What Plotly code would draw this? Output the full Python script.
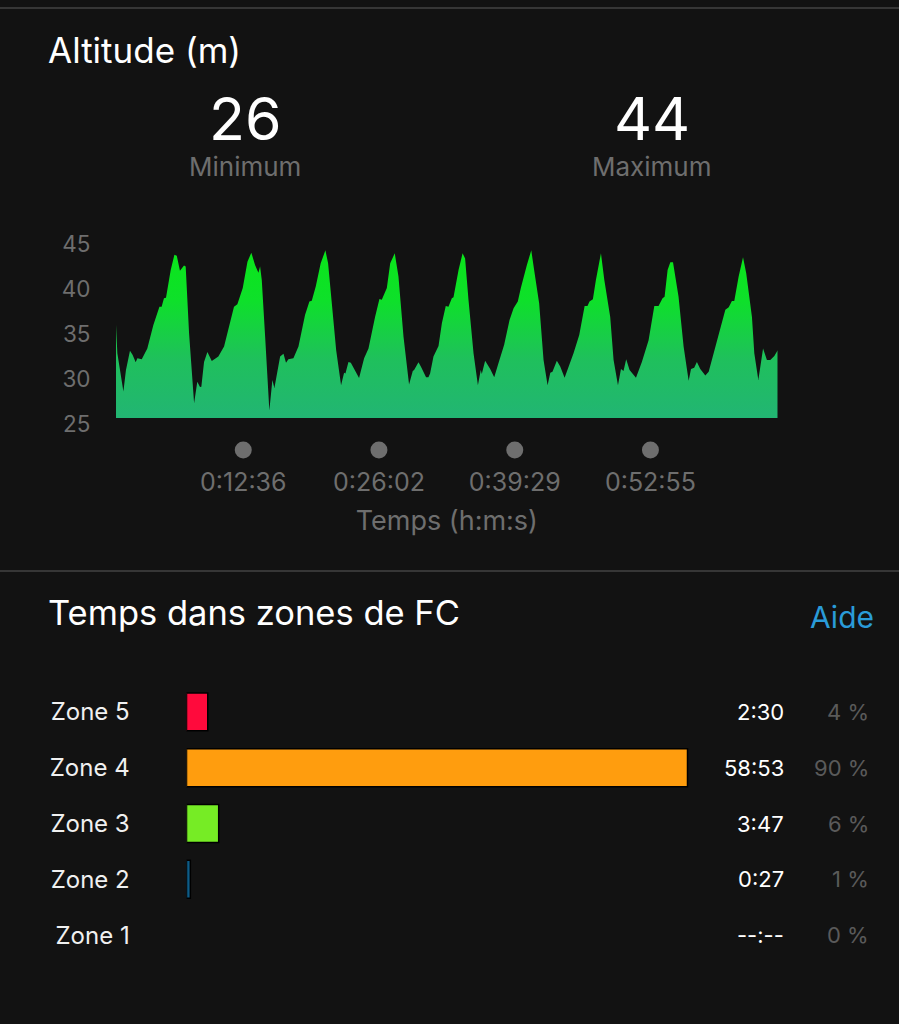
import plotly.graph_objects as go

# Altitude profile
elapsed_s = [0, 8, 44, 59, 83, 99, 117, 127, 153, 186, 222, 258, 271, 285, 297, 325, 347, 361, 380, 404, 414, 434, 464, 483, 499, 507, 523, 543, 569, 608, 642, 668, 701, 721, 753, 781, 804, 826, 846, 856, 866, 886, 911, 929, 941, 975, 995, 1010, 1024, 1054, 1084, 1123, 1149, 1163, 1187, 1216, 1244, 1260, 1282, 1308, 1337, 1355, 1363, 1381, 1395, 1444, 1474, 1500, 1539, 1565, 1579, 1609, 1629, 1656, 1678, 1708, 1741, 1763, 1771, 1797, 1811, 1842, 1856, 1866, 1886, 1916, 1936, 1959, 1975, 1995, 2005, 2035, 2059, 2074, 2094, 2124, 2150, 2167, 2173, 2193, 2223, 2247, 2272, 2306, 2338, 2362, 2387, 2405, 2441, 2467, 2484, 2514, 2540, 2564, 2580, 2593, 2619, 2639, 2665, 2718, 2752, 2784, 2801, 2813, 2833, 2851, 2881, 2901, 2936, 2956, 2982, 3000, 3015, 3031, 3051, 3089, 3124, 3164, 3198, 3223, 3247, 3259, 3277, 3293, 3309, 3342, 3372, 3402, 3416, 3435, 3451, 3471, 3501, 3521, 3620, 3640, 3659, 3673, 3699, 3725, 3744, 3778, 3792, 3816, 3828, 3844, 3867, 3887, 3911, 3931]
altitude_m = [36.0, 32.86, 28.6, 30.98, 33.15, 32.67, 31.85, 32.3, 32.2, 33.4, 36.0, 38.04, 38.04, 38.97, 39.04, 42.1, 43.8, 43.7, 42.04, 42.6, 42.5, 35.1, 27.3, 29.7, 29.1, 29.15, 31.9, 33.0, 32.0, 32.5, 33.6, 35.6, 38.04, 38.3, 40.1, 43.04, 44.04, 42.67, 41.8, 42.5, 41.0, 34.7, 26.5, 29.9, 29.0, 32.5, 32.8, 31.8, 32.2, 32.3, 33.6, 37.1, 38.6, 38.7, 40.3, 42.85, 44.3, 42.85, 38.4, 33.2, 29.3, 30.7, 30.6, 31.9, 31.8, 30.1, 32.3, 33.4, 36.9, 38.9, 38.8, 40.1, 42.85, 43.97, 41.4, 34.7, 29.4, 30.9, 31.0, 31.85, 31.4, 30.2, 30.2, 30.6, 32.5, 33.67, 36.2, 38.1, 38.04, 38.97, 39.07, 42.1, 43.97, 43.4, 38.8, 32.86, 29.3, 31.0, 30.56, 32.04, 31.1, 30.2, 31.74, 33.8, 36.56, 37.85, 38.6, 40.1, 42.67, 44.3, 42.1, 38.4, 32.1, 29.3, 30.7, 30.8, 32.04, 31.4, 30.15, 32.86, 34.9, 38.1, 38.1, 38.6, 38.85, 41.0, 43.97, 41.0, 36.9, 32.1, 29.3, 31.1, 30.9, 32.2, 31.0, 30.15, 31.9, 34.3, 38.1, 38.1, 38.97, 39.15, 42.1, 42.97, 42.97, 39.15, 33.6, 29.8, 31.1, 31.26, 31.9, 31.1, 30.4, 30.8, 37.7, 37.97, 38.67, 38.67, 41.4, 43.52, 41.74, 36.9, 32.86, 29.9, 31.4, 33.4, 32.1, 32.1, 32.56, 33.2]
altitude_ticks = [25, 30, 35, 40, 45]
time_ticks_s = [756, 1562, 2369, 3175]
time_tick_labels = ["0:12:36", "0:26:02", "0:39:29", "0:52:55"]

# Time in heart-rate zones
zones = ["Zone 5", "Zone 4", "Zone 3", "Zone 2", "Zone 1"]
zone_seconds = [150, 3533, 227, 27, 0]
zone_times = ["2:30", "58:53", "3:47", "0:27", "--:--"]
zone_percents = ["4 %", "90 %", "6 %", "1 %", "0 %"]
zone_colors = ["#ff0a3c", "#ff9d0e", "#76ec25", "#0d5c88", "#121212"]
zone_outline_widths = [1.5, 1.5, 1.5, 1.5, 0]

W, H = 899, 1024
BG = "#121212"
FONT = "Inter, 'Liberation Sans', sans-serif"
GRAY = "#6e6e6e"
BASE_ALT = 25.67
DOT_ALT = 22.1


def px(x):
    return x / W


def py(y):
    return 1 - y / H


fig = go.Figure()

fig.add_trace(go.Scatter(
    x=elapsed_s, y=[BASE_ALT] * len(elapsed_s), mode="lines",
    line=dict(width=0), hoverinfo="skip", showlegend=False))
fig.add_trace(go.Scatter(
    x=elapsed_s, y=altitude_m, mode="lines", fill="tonexty",
    line=dict(width=0, color="#10d828"),
    fillgradient=dict(type="vertical", start=BASE_ALT, stop=44.3,
                      colorscale=[[0, "#22b573"], [0.35, "#1fc05c"], [0.7, "#0ee02a"], [1, "#0ae61a"]]),
    showlegend=False))
fig.add_trace(go.Scatter(
    x=time_ticks_s, y=[DOT_ALT] * len(time_ticks_s), mode="markers",
    marker=dict(size=17, color="#6e6e6e"), showlegend=False, cliponaxis=False))

fig.add_trace(go.Bar(
    x=zone_seconds, y=zones, orientation="h", xaxis="x2", yaxis="y2", width=0.68,
    marker=dict(color=zone_colors, line=dict(color="#000000", width=zone_outline_widths)),
    showlegend=False))

annotations = []


def label(x, y, text, size, color, anchor="left", yref="paper", font=FONT):
    annotations.append(dict(
        x=px(x), y=py(y) if yref == "paper" else y, xref="paper", yref=yref, text=text,
        showarrow=False, xanchor=anchor, yanchor="middle",
        font=dict(family=font, size=size, color=color)))


label(46, 50, "Altitude (m)", 35, "#ffffff")
label(245, 118.5, "26", 59, "#ffffff", "center")
label(652, 118.5, "44", 59, "#ffffff", "center")
label(245, 166, "Minimum", 26, GRAY, "center")
label(652, 166, "Maximum", 26, GRAY, "center")
label(46, 612, "Temps dans zones de FC", 34.5, "#ffffff")
label(876, 617, "Aide", 30, "#2a9bd8", "right")
for z, t, p in zip(zones, zone_times, zone_percents):
    label(786, z, t, 22, "#ffffff", "right", "y2")
    label(871, z, p, 22, "#5a5a5a", "right", "y2")

fig.update_layout(
    width=W, height=H, margin=dict(l=0, r=0, t=0, b=0, autoexpand=False), autosize=False,
    paper_bgcolor=BG, plot_bgcolor=BG, hovermode=False,
    font=dict(family=FONT),
    annotations=annotations,
    shapes=[
        dict(type="line", xref="paper", yref="paper", x0=0, x1=1, y0=py(8), y1=py(8),
             line=dict(color="#5a5a5a", width=1)),
        dict(type="line", xref="paper", yref="paper", x0=0, x1=1, y0=py(571), y1=py(571),
             line=dict(color="#5a5a5a", width=1)),
    ],
    xaxis=dict(domain=[px(116), px(777.7)], range=[0, 3931], tickvals=time_ticks_s,
               ticktext=time_tick_labels, showgrid=False, zeroline=False, showline=False,
               ticks="outside", ticklen=0, tickcolor=BG,
               tickfont=dict(size=25, color=GRAY),
               title=dict(text="Temps (h:m:s)", font=dict(size=27, color=GRAY), standoff=15),
               anchor="y"),
    yaxis=dict(domain=[py(460), py(235)], range=[21, 46], tickvals=altitude_ticks,
               showgrid=False, zeroline=False, showline=False,
               ticks="outside", ticklen=20, tickcolor=BG,
               tickfont=dict(size=22.5, color=GRAY)),
    xaxis2=dict(domain=[px(186.5), px(899)], range=[0, 3533 * 712.5 / 501], visible=False,
                anchor="y2"),
    yaxis2=dict(domain=[py(963), py(684)], categoryorder="array", categoryarray=zones[::-1],
                showgrid=False, zeroline=False, showline=False, anchor="x2",
                ticks="outside", ticklen=51, tickcolor=BG,
                tickfont=dict(size=24, color="#f0f0f0")),
)

fig.write_html("out.html", post_script="document.body.style.margin='0';",
               config=dict(displayModeBar=False))
